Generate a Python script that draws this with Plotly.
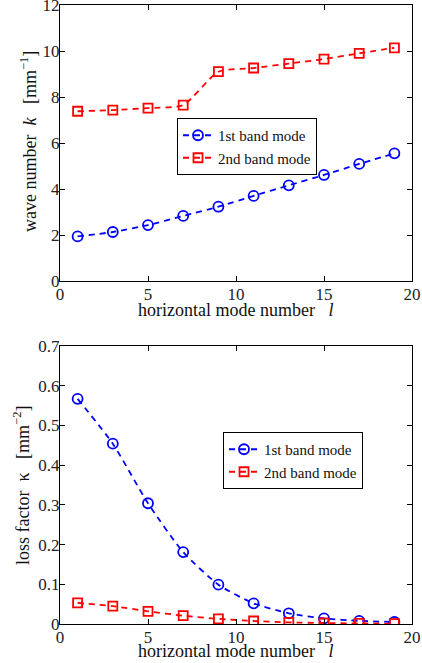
import plotly.graph_objects as go

# horizontal mode number l
mode_l = [1, 3, 5, 7, 9, 11, 13, 15, 17, 19]

# wave number k [mm^-1]
k_band1 = [1.94, 2.13, 2.43, 2.83, 3.23, 3.70, 4.16, 4.61, 5.09, 5.55]
k_band2 = [7.38, 7.43, 7.52, 7.65, 9.10, 9.26, 9.45, 9.65, 9.90, 10.14]

# loss factor kappa [mm^-2]
kappa_band1 = [0.567, 0.454, 0.304, 0.181, 0.099, 0.052, 0.027, 0.014, 0.008, 0.005]
kappa_band2 = [0.053, 0.045, 0.032, 0.021, 0.013, 0.0075, 0.004, 0.0025, 0.0015, 0.001]

x_ticks = [0, 5, 10, 15, 20]
k_ticks = [0, 2, 4, 6, 8, 10, 12]
kappa_ticks = [0, 0.1, 0.2, 0.3, 0.4, 0.5, 0.6, 0.7]
kappa_ticktext = ["0", "0.1", "0.2", "0.3", "0.4", "0.5", "0.6", "0.7"]

series_names = ["1st band mode", "2nd band mode"]
BLUE = "#0000ff"
RED = "#ff0000"
FONT = "Liberation Serif"
W, H = 422, 663

fig = go.Figure()

def add_series(x, y, name, color, symbol, xa, ya, legend, size):
    fig.add_trace(go.Scatter(
        x=x, y=y, name=name, mode="lines+markers",
        line=dict(color=color, width=1.8, dash="6px,5px", shape="spline", smoothing=0.6),
        marker=dict(symbol=symbol, size=size, color=color,
                    line=dict(color=color, width=1.8)),
        xaxis=xa, yaxis=ya, legend=legend,
    ))

add_series(mode_l, k_band1, series_names[0], BLUE, "circle-open", "x", "y", "legend", 10)
add_series(mode_l, k_band2, series_names[1], RED, "square-open", "x", "y", "legend", 9)
add_series(mode_l, kappa_band1, series_names[0], BLUE, "circle-open", "x2", "y2", "legend2", 10)
add_series(mode_l, kappa_band2, series_names[1], RED, "square-open", "x2", "y2", "legend2", 9)

x0, x1 = 60 / W, 412 / W
top_dom = [1 - 281 / H, 1 - 5 / H]
bot_dom = [1 - 624 / H, 1 - 346 / H]

axis_common = dict(
    showline=True, linecolor="black", linewidth=1, mirror="ticks",
    ticks="inside", ticklen=5, tickcolor="black", tickwidth=1,
    showgrid=False, zeroline=False,
    tickfont=dict(family=FONT, size=17, color="#222222"),
    ticklabeloverflow="allow",
    automargin=False,
)

legend_common = dict(
    xanchor="left", yanchor="top",
    bordercolor="black", borderwidth=1, bgcolor="white",
    font=dict(family=FONT, size=15, color="#111111"),
    tracegroupgap=0, itemwidth=30,
)

fig.update_layout(
    width=W, height=H,
    margin=dict(l=0, r=0, t=0, b=0),
    paper_bgcolor="white", plot_bgcolor="white",
    font=dict(family=FONT, size=15, color="black"),
    xaxis=dict(domain=[x0, x1], range=[0, 20], tickvals=x_ticks, anchor="y",
               ticklabelstandoff=-2, **axis_common),
    yaxis=dict(domain=top_dom, range=[0, 12], tickvals=k_ticks, anchor="x",
               ticklabelstandoff=-4, **axis_common),
    xaxis2=dict(domain=[x0, x1], range=[0, 20], tickvals=x_ticks, anchor="y2",
                ticklabelstandoff=-2, **axis_common),
    yaxis2=dict(domain=bot_dom, range=[0, 0.7], tickvals=kappa_ticks, ticktext=kappa_ticktext,
                anchor="x2", ticklabelstandoff=-4, **axis_common),
    legend=dict(x=177 / W, y=1 - 118 / H, **legend_common),
    legend2=dict(x=223 / W, y=1 - 432 / H, **legend_common),
    showlegend=True,
)

title_font = dict(family=FONT, size=18, color="#111111")
x_title = "horizontal mode number   <i>l</i>"
fig.add_annotation(text=x_title, x=(137 + 333) / 2 / W, y=1 - 310 / H,
                   xref="paper", yref="paper", showarrow=False, font=title_font,
                   xanchor="center", yanchor="middle")
fig.add_annotation(text=x_title, x=(137 + 333) / 2 / W, y=0,
                   xref="paper", yref="paper", showarrow=False, font=title_font,
                   xanchor="center", yanchor="bottom")
fig.add_annotation(text="wave number  <i>k</i>   [mm<sup>\u22121</sup>]", x=28 / W, y=1 - 142 / H,
                   xref="paper", yref="paper", showarrow=False, font=title_font, textangle=-90,
                   xanchor="center", yanchor="middle")
fig.add_annotation(text="loss factor  \u03ba   [mm<sup>\u22122</sup>]", x=22 / W, y=1 - 486 / H,
                   xref="paper", yref="paper", showarrow=False, font=title_font, textangle=-90,
                   xanchor="center", yanchor="middle")

fig.write_html("out.html")
